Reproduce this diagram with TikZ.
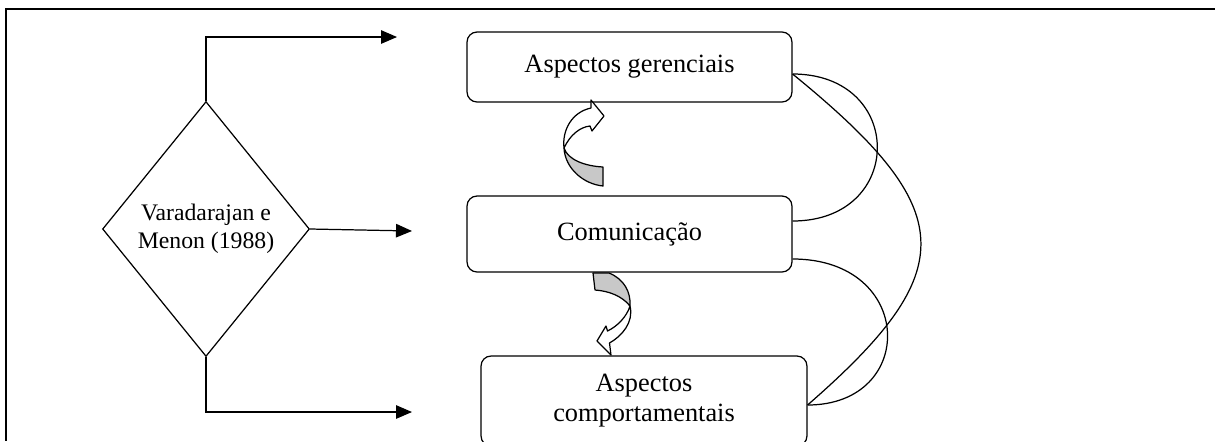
\documentclass[tikz,border=0pt]{standalone}
\usepackage{fontspec}
\setmainfont{Liberation Serif}
\usetikzlibrary{arrows.meta,shapes.geometric}
\definecolor{bandgray}{RGB}{200,200,200}
\tikzset{
  stagebox/.style={draw, rounded corners=0.2cm, minimum width=6.5cm, align=center, font=\fontsize{15}{17}\selectfont},
  blockarrow/.style={draw, line join=round},
  link/.style={-{Triangle[length=0.32cm,width=0.27cm]}}
}

\begin{document}
\begin{tikzpicture}[x=0.02cm, y=-0.02cm, line width=0.7pt]
\useasboundingbox (0,0) rectangle (1215,441);
\draw[line width=1pt] (1215,9) -- (6,9) -- (6,441);

\node[draw, diamond, inner sep=0pt, minimum width=4.14cm, minimum height=5.1cm, align=center, font=\fontsize{13.5}{16}\selectfont] (dia) at (206,229) {Varadarajan e\\Menon (1988)};
\node[stagebox, minimum height=1.4cm] (ger) at (629.5,67) {Aspectos gerenciais};
\node[stagebox, minimum height=1.52cm] (com) at (629.5,234) {Comunicação};
\node[stagebox, minimum width=6.52cm, minimum height=1.8cm] (cpt) at (644,401) {Aspectos\\comportamentais};

\coordinate (e1) at (397,37);
\coordinate (e2) at (412,231);
\coordinate (e3) at (412,412);
\draw[link] (dia.north) |- (e1);
\draw[link] (dia.east) -- (e2);
\draw[link] (dia.south) |- (e3);

\draw ([yshift=-0.14cm]ger.east) .. controls +(113,0) and +(113,0) .. ([yshift=0.26cm]com.east);
\draw ([yshift=-0.5cm]com.east) .. controls +(123,0) and +(110,0) .. ([yshift=-0.08cm]cpt.east);
\draw ([yshift=-0.14cm]ger.east) .. controls +(167,136) and +(155,-135) .. ([yshift=-0.08cm]cpt.east);

\filldraw[blockarrow, fill=bandgray] (564,148) .. controls (565,168) and (583,184) .. (603,186) -- (603,167) .. controls (585,166) and (568,160) .. (564,148) -- cycle;
\filldraw[blockarrow, fill=white] (591,108) .. controls (572,112) and (562,130) .. (564,148) .. controls (570,135) and (580,127) .. (590,126) -- (592,131) -- (604,116) -- (591,100) -- cycle;

\filldraw[blockarrow, fill=bandgray] (593,273) -- (609,273) .. controls (624,279) and (631,292) .. (630,306) .. controls (622,296) and (609,291) .. (595,290) -- cycle;
\filldraw[blockarrow, fill=white] (630,306) .. controls (634,322) and (622,336) .. (609.5,343) -- (611,355) -- (597,341) -- (606,326) -- (607.5,331) .. controls (618,326) and (627,316) .. (630,306) -- cycle;
\end{tikzpicture}
\end{document}
